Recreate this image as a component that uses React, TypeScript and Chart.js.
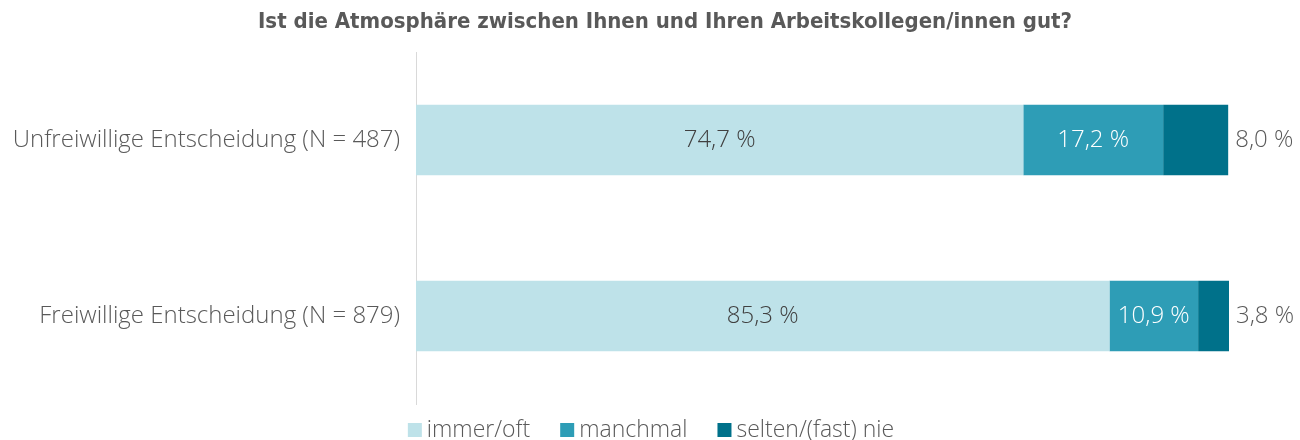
import React, { useEffect, useRef } from "react";
import { Chart, registerables } from "chart.js";

Chart.register(...registerables);

const categories = ["Unfreiwillige Entscheidung (N = 487)", "Freiwillige Entscheidung (N = 879)"];
const seriesNames = ["immer/oft", "manchmal", "selten/(fast) nie"];
const immerOft = [74.7, 85.3];
const manchmal = [17.2, 10.9];
const selten = [8.0, 3.8];
const colors = ["#BEE2E9", "#2E9DB6", "#00718A"];
const labelColors = ["#404040", "#FFFFFF", "#595959"];
const titleText = "Ist die Atmosphäre zwischen Ihnen und Ihren Arbeitskollegen/innen gut?";

const FONT = "'Open Sans', Roboto, sans-serif";
const TITLE_FONT = "'DejaVu Sans Condensed', 'DejaVu Sans', sans-serif";

const fmt = (v: number) => v.toFixed(1).replace(".", ",") + " %";

const labelPlugin = {
  id: "barLabels",
  afterDatasetsDraw(chart: any) {
    const ctx = chart.ctx;
    ctx.save();
    ctx.font = `300 24px ${FONT}`;
    ctx.textBaseline = "middle";
    chart.data.datasets.forEach((ds: any, di: number) => {
      const meta = chart.getDatasetMeta(di);
      meta.data.forEach((bar: any, i: number) => {
        const v = ds.data[i];
        ctx.fillStyle = labelColors[di];
        if (di === 2) {
          ctx.textAlign = "left";
          ctx.fillText(fmt(v), bar.x + 7, bar.y);
        } else {
          ctx.textAlign = "center";
          ctx.fillText(fmt(v), (bar.x + bar.base) / 2, bar.y);
        }
      });
    });
    // title
    ctx.font = `bold 22px ${TITLE_FONT}`;
    ctx.fillStyle = "#595959";
    ctx.textAlign = "center";
    ctx.fillText(titleText, 665, 22);
    // legend
    ctx.font = `300 23px ${FONT}`;
    ctx.textAlign = "left";
    const gap = 30;
    const widths = seriesNames.map((n) => 19 + ctx.measureText(n).width);
    const total = widths.reduce((a, b) => a + b, 0) + gap * (seriesNames.length - 1);
    let x = 651 - total / 2;
    const cy = 430;
    seriesNames.forEach((n, i) => {
      ctx.fillStyle = colors[i];
      ctx.fillRect(x, cy - 7, 14, 14);
      ctx.fillStyle = "#595959";
      ctx.fillText(n, x + 19, cy);
      x += widths[i] + gap;
    });
    ctx.restore();
  },
};

export default function App() {
  const ref = useRef<HTMLCanvasElement>(null);
  useEffect(() => {
    document.body.style.margin = "0";
    const chart = new Chart(ref.current!, {
      type: "bar",
      data: {
        labels: categories,
        datasets: [immerOft, manchmal, selten].map((d, i) => ({
          label: seriesNames[i],
          data: d,
          backgroundColor: colors[i],
          borderWidth: 0,
          barPercentage: 0.4,
          categoryPercentage: 1,
        })),
      },
      options: {
        indexAxis: "y",
        animation: false,
        responsive: false,
        layout: { padding: { left: 0, right: 71, top: 52, bottom: 36 } },
        scales: {
          x: { stacked: true, min: 0, max: 100, display: false },
          y: {
            stacked: true,
            grid: { display: false, drawTicks: false },
            border: { display: true, color: "#D9D9D9", width: 1 },
            ticks: { color: "#595959", font: { family: FONT, size: 24, weight: "300" }, padding: 16 },
            afterFit: (s: any) => { s.width = 416; },
          },
        },
        plugins: {
          title: { display: false },
          legend: { display: false },
          tooltip: { enabled: false },
        },
      },
      plugins: [labelPlugin],
    });
    return () => chart.destroy();
  }, []);
  return <canvas ref={ref} width={1300} height={440} style={{ display: "block" }} />;
}
